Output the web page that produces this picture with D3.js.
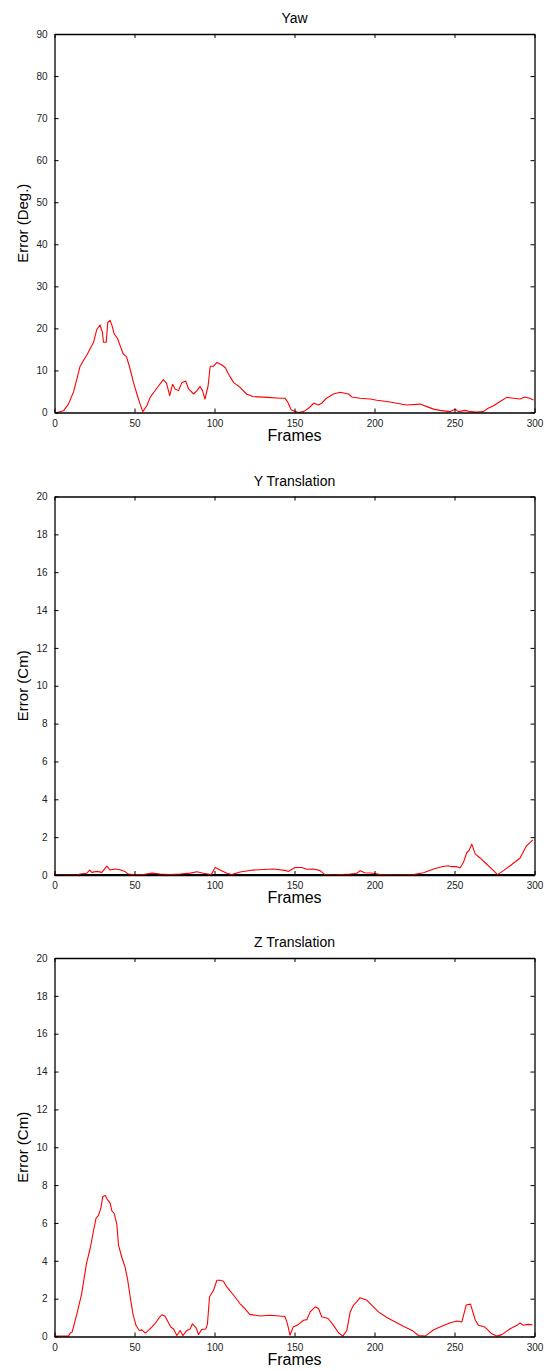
<!DOCTYPE html>
<head>
	<meta charset="utf-8" />
	<style>
		body {
			margin: 0;
			background-color: #fff;
			font-family: 'Liberation Sans', Arial, sans-serif;
		}
		text {
			font-weight: normal;
		}
	</style>
</head>
<body>
	<div id="chart-area"></div>

	<script src="https://cdnjs.cloudflare.com/ajax/libs/d3/7.8.5/d3.min.js"></script>
	<script>
		// yaw error (deg)
		const yawFrames = [0, 1.5, 5.6, 8.7, 12, 14, 16, 18, 20, 22, 24.4, 26.5, 28.5, 30, 30.6, 32.3, 33.3, 34.8, 36, 37.3, 39.4, 41, 43, 45, 47, 49.4, 51.5, 53.5, 55.2, 57.7, 59.8, 63, 65, 68, 70, 72, 73.8, 75.4, 77.5, 79.6, 82, 83.8, 87, 89, 91, 92.5, 94, 96, 97.3, 99.4, 101.5, 104.6, 106.7, 108.8, 112, 116, 120, 124, 133, 141, 144, 145.6, 148, 152.5, 155.6, 158.8, 162, 165, 167, 170, 174.4, 178.5, 183.8, 185.8, 191, 197.3, 201.5, 207.7, 214, 220, 228.5, 232.7, 237, 241, 247, 250.4, 252.5, 256.7, 259.8, 264, 268, 271, 274.4, 278.5, 282.7, 287, 291, 294, 297, 299.4];
		const yawErr = [0, 0, 0.4, 2, 5, 8, 11, 12.3, 13.5, 15, 16.7, 19.8, 20.8, 19, 16.7, 16.7, 21.4, 21.9, 20.6, 18.7, 17.6, 15.9, 13.9, 13.3, 10.7, 7.1, 4.4, 2, 0.2, 1.6, 3.6, 5.3, 6.3, 7.8, 7, 4, 6.7, 5.6, 5.2, 7.1, 7.5, 5.6, 4.4, 5.2, 6.2, 5.2, 3.2, 6.3, 11, 11, 11.9, 11.3, 10.7, 9.1, 7.1, 6, 4.4, 3.8, 3.6, 3.4, 3.4, 2.6, 0.6, 0, 0.2, 1, 2.2, 1.8, 2.2, 3.4, 4.4, 4.8, 4.4, 3.7, 3.4, 3.2, 2.9, 2.6, 2.2, 1.8, 2, 1.4, 0.8, 0.5, 0.2, 0.8, 0.2, 0.5, 0.2, 0.1, 0.2, 1, 1.6, 2.6, 3.6, 3.4, 3.2, 3.7, 3.4, 3];

		// y translation error (cm)
		const yFrames = [0, 14, 16, 20, 22, 23.3, 26.5, 29.6, 32.7, 34.8, 38, 41, 44, 46, 49.4, 55.6, 61, 66, 72, 78.5, 84.8, 89, 93, 98, 100.4, 103.5, 107.7, 110.8, 116, 124, 137, 145, 146, 150.4, 154.6, 157.7, 162, 166, 169, 174.4, 184.8, 189, 191, 194, 199.4, 203.5, 214, 224.4, 230.6, 237, 242, 246, 248, 251.5, 253.5, 255.6, 257.7, 259, 260.8, 263, 266, 270, 274.4, 276.9, 280.6, 284.8, 291, 295, 299];
		const yErr = [0, 0, 0.05, 0.09, 0.26, 0.14, 0.19, 0.14, 0.47, 0.26, 0.32, 0.28, 0.19, 0.05, 0.02, 0.03, 0.1, 0.05, 0.02, 0.05, 0.1, 0.17, 0.09, 0.02, 0.4, 0.26, 0.09, 0.02, 0.16, 0.26, 0.32, 0.23, 0.19, 0.4, 0.4, 0.3, 0.32, 0.23, 0.02, 0, 0.05, 0.09, 0.23, 0.12, 0.09, 0.02, 0, 0.02, 0.12, 0.32, 0.44, 0.49, 0.44, 0.44, 0.37, 0.67, 1.19, 1.28, 1.63, 1.1, 0.9, 0.58, 0.23, 0.02, 0.23, 0.49, 0.9, 1.54, 1.86];
		const yRefFrames = [0, 300];
		const yRefErr = [0, 0];

		// z translation error (cm)
		const zFrames = [0, 1.5, 8.7, 10, 11, 14, 17, 20, 22.3, 24.4, 26, 27.5, 29, 30.2, 31.7, 33, 34.8, 35.8, 37.3, 39, 40, 42, 44, 45.6, 47.3, 49, 51, 53, 54.6, 56.7, 58.7, 60.8, 63, 65, 67, 69, 71, 72.7, 74.4, 76.5, 78.5, 80.2, 82.7, 84.8, 86.2, 88.5, 90, 92, 94.6, 95.6, 96.9, 99.4, 101.5, 103.5, 105.6, 107.7, 112, 116, 119, 122, 128.5, 134.8, 144, 145.6, 147.2, 149.2, 152.5, 155.6, 157.7, 159.8, 163, 165, 167, 171, 174.4, 177.5, 180.2, 182.7, 184.8, 186.9, 189, 191, 195, 198.3, 202.5, 207.7, 213, 218, 223.5, 227.5, 231.7, 237, 242, 247, 251.5, 254.6, 257.3, 260, 263, 265, 269, 273.3, 276.5, 279.6, 284.8, 289, 291, 293, 296, 298.7];
		const zErr = [0, 0.02, 0.02, 0.2, 0.23, 1.2, 2.27, 3.86, 4.65, 5.6, 6.25, 6.4, 6.8, 7.4, 7.45, 7.25, 7.05, 6.65, 6.5, 5.9, 4.83, 4.2, 3.7, 3.06, 2.1, 1.2, 0.58, 0.32, 0.35, 0.18, 0.32, 0.5, 0.7, 0.94, 1.15, 1.08, 0.76, 0.5, 0.4, 0.05, 0.32, 0.05, 0.32, 0.4, 0.67, 0.46, 0.1, 0.37, 0.4, 0.67, 2.1, 2.44, 2.97, 2.97, 2.92, 2.62, 2.18, 1.73, 1.47, 1.17, 1.08, 1.12, 1.06, 0.67, 0.07, 0.5, 0.64, 0.86, 0.89, 1.3, 1.57, 1.48, 1.04, 0.95, 0.59, 0.2, 0.02, 0.32, 1.3, 1.66, 1.84, 2.05, 1.93, 1.66, 1.3, 1, 0.77, 0.54, 0.32, 0.05, 0.02, 0.36, 0.54, 0.71, 0.82, 0.77, 1.66, 1.71, 0.86, 0.59, 0.5, 0.14, 0.02, 0.1, 0.41, 0.59, 0.71, 0.59, 0.64, 0.62];

		const xTicks = [0, 50, 100, 150, 200, 250, 300];
		const yawTicks = [0, 10, 20, 30, 40, 50, 60, 70, 80, 90];
		const cmTicks = [0, 2, 4, 6, 8, 10, 12, 14, 16, 18, 20];

		const panels = [
			{
				title: 'Yaw',
				yLabel: 'Error (Deg.)',
				yMax: 90,
				yTicks: yawTicks,
				top: 34,
				series: [{ x: yawFrames, y: yawErr, color: '#ff0000' }],
			},
			{
				title: 'Y Translation',
				yLabel: 'Error (Cm)',
				yMax: 20,
				yTicks: cmTicks,
				top: 496.5,
				series: [
					{ x: yRefFrames, y: yRefErr, color: '#000', w: 2 },
					{ x: yFrames, y: yErr, color: '#ff0000' },
				],
			},
			{
				title: 'Z Translation',
				yLabel: 'Error (Cm)',
				yMax: 20,
				yTicks: cmTicks,
				top: 958,
				series: [{ x: zFrames, y: zErr, color: '#ff0000' }],
			},
		];

		const left = 54.5,
			right = 534.5,
			plotH = 378.5;

		const svg = d3
			.select('#chart-area')
			.append('svg')
			.attr('width', 546)
			.attr('height', 1371)
			.attr('font-family', "'Liberation Sans', Arial, sans-serif");

		panels.forEach(p => {
			const x = d3.scaleLinear().domain([0, 300]).range([left, right]);
			const y = d3
				.scaleLinear()
				.domain([0, p.yMax])
				.range([p.top + plotH, p.top]);

			const g = svg.append('g');

			// data lines
			p.series.forEach(s => {
				const pts = s.x.map((f, i) => [f, s.y[i]]);
				g.append('path')
					.datum(pts)
					.attr('fill', 'none')
					.attr('stroke', s.color)
					.attr('stroke-width', s.w || 1.1)
					.attr('stroke-linejoin', 'round')
					.attr(
						'd',
						d3
							.line()
							.x(d => x(d[0]))
							.y(d => y(d[1]))
					);
			});

			// axes, matlab style ticks inside on all sides
			const bottom = g
				.append('g')
				.attr('transform', `translate(0,${p.top + plotH})`)
				.call(
					d3.axisBottom(x).tickValues(xTicks).tickSize(-4).tickPadding(7).tickSizeOuter(0)
				);
			const leftAx = g
				.append('g')
				.attr('transform', `translate(${left},0)`)
				.call(
					d3.axisLeft(y).tickValues(p.yTicks).tickSize(-4).tickPadding(7).tickSizeOuter(0)
				);
			const topAx = g
				.append('g')
				.attr('transform', `translate(0,${p.top})`)
				.call(d3.axisTop(x).tickValues(xTicks).tickSize(-4).tickFormat('').tickSizeOuter(0));
			const rightAx = g
				.append('g')
				.attr('transform', `translate(${right},0)`)
				.call(
					d3.axisRight(y).tickValues(p.yTicks).tickSize(-4).tickFormat('').tickSizeOuter(0)
				);

			[bottom, leftAx, topAx, rightAx].forEach(a => {
				a.attr('font-family', null).attr('font-size', null);
				a.select('.domain').attr('stroke', '#000').attr('stroke-width', 1.3);
				a.selectAll('.tick line').attr('stroke', '#000');
				a.selectAll('.tick text')
					.attr('font-size', 10)
					.attr('fill', '#222');
			});

			g.append('text')
				.attr('x', (left + right) / 2)
				.attr('y', p.top - 11)
				.attr('text-anchor', 'middle')
				.attr('font-size', 14)
				.attr('font-weight', 'normal')
				.text(p.title);

			g.append('text')
				.attr('x', (left + right) / 2)
				.attr('y', p.top + plotH + 28)
				.attr('text-anchor', 'middle')
				.attr('font-size', 16)
				.attr('font-weight', 'normal')
				.text('Frames');

			g.append('text')
				.attr(
					'transform',
					`translate(28,${p.top + plotH / 2}) rotate(-90)`
				)
				.attr('text-anchor', 'middle')
				.attr('font-size', 15)
				.attr('font-weight', 'normal')
				.text(p.yLabel);
		});
	</script>
</body>
